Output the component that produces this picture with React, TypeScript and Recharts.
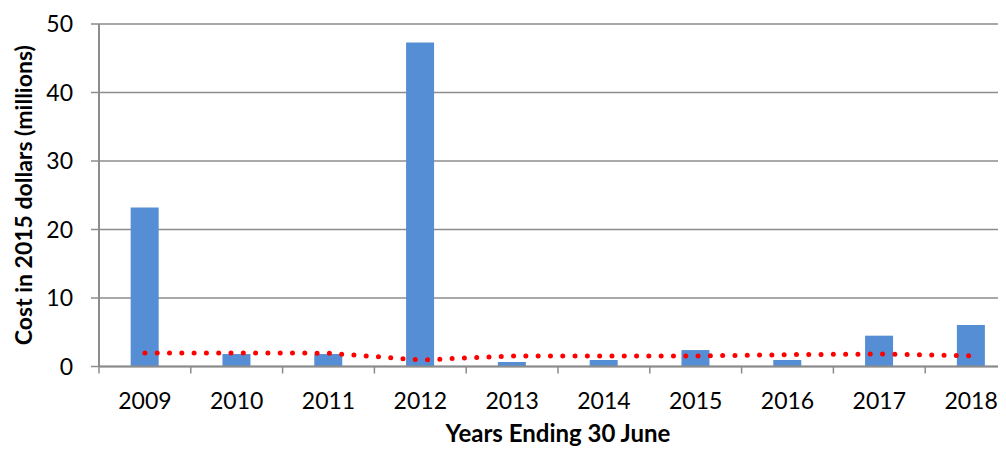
import React from "react";
import { ComposedChart, Bar, Line, XAxis, YAxis, CartesianGrid } from "recharts";

const years = ["2009", "2010", "2011", "2012", "2013", "2014", "2015", "2016", "2017", "2018"];
const costs = [23.2, 1.82, 1.82, 47.3, 0.66, 0.95, 2.4, 0.95, 4.5, 6.06];
const trend = [1.97, 1.97, 1.95, 0.95, 1.53, 1.53, 1.53, 1.73, 1.82, 1.58];
const yTicks = [0, 10, 20, 30, 40, 50];

const data = years.map((y, i) => ({ year: y, cost: costs[i], trend: trend[i] }));

const CHART_W = 1012;
const CHART_H = 448;
const Y_AXIS_W = 91;
const M_RIGHT = 3;
const HALF_BAND = (CHART_W - Y_AXIS_W - M_RIGHT) / years.length / 2;
const FONT = "Lato, 'Open Sans', sans-serif";
const AXIS_COLOR = "#8c8c8c";

const XTick = (props: any) => {
  const { x, y, payload, index } = props;
  const axisY = y - 8;
  return (
    <g>
      <line x1={x - HALF_BAND} x2={x - HALF_BAND} y1={axisY} y2={axisY + 7} stroke={AXIS_COLOR} strokeWidth={1.5} />
      {index === years.length - 1 && (
        <line x1={x + HALF_BAND} x2={x + HALF_BAND} y1={axisY} y2={axisY + 7} stroke={AXIS_COLOR} strokeWidth={1.5} />
      )}
      <text x={x} y={axisY + 42} textAnchor="middle" fontFamily={FONT} fontSize={23} fill="#000">
        {payload.value}
      </text>
    </g>
  );
};

export default function App() {
  return (
    <div style={{ width: 998, height: CHART_H, overflow: "hidden" }}>
      <ComposedChart
        width={CHART_W}
        height={CHART_H}
        data={data}
        margin={{ top: 16, right: M_RIGHT, left: 0, bottom: 9.5 }}
        barCategoryGap="34.5%"
      >
        <CartesianGrid vertical={false} stroke={AXIS_COLOR} strokeWidth={1.5} />
        <XAxis
          dataKey="year"
          height={80}
          tickLine={false}
          tickSize={8}
          tickMargin={0}
          interval={0}
          axisLine={{ stroke: AXIS_COLOR, strokeWidth: 2 }}
          tick={<XTick />}
          label={{
            content: (p: any) => {
              const vb = p.viewBox || {};
              return (
                <text
                  x={vb.x + vb.width / 2}
                  y={vb.y + 75}
                  textAnchor="middle"
                  fontFamily={FONT}
                  fontWeight="bold"
                  fontSize={24}
                  fill="#000"
                >
                  Years Ending 30 June
                </text>
              );
            },
          }}
        />
        <YAxis
          width={Y_AXIS_W}
          domain={[0, 50]}
          ticks={yTicks}
          interval={0}
          tickSize={8}
          tickMargin={18}
          tickLine={{ stroke: AXIS_COLOR, strokeWidth: 1.5 }}
          axisLine={{ stroke: AXIS_COLOR, strokeWidth: 2 }}
          tick={{ fontFamily: FONT, fontSize: 23, fill: "#000" }}
          label={{
            content: (p: any) => {
              const vb = p.viewBox || {};
              const cx = 15;
              const cy = vb.y + vb.height / 2;
              return (
                <text
                  transform={`translate(${cx},${cy}) rotate(-90)`}
                  textAnchor="middle"
                  dominantBaseline="central"
                  fontFamily={FONT}
                  fontWeight="bold"
                  fontSize={23}
                  fill="#000"
                >
                  Cost in 2015 dollars (millions)
                </text>
              );
            },
          }}
        />
        <Bar dataKey="cost" fill="#558ED5" isAnimationActive={false} />
        <Line
          dataKey="trend"
          stroke="#FF0000"
          strokeWidth={5}
          strokeDasharray="0 12.3"
          strokeLinecap="round"
          dot={false}
          activeDot={false}
          isAnimationActive={false}
        />
      </ComposedChart>
    </div>
  );
}
